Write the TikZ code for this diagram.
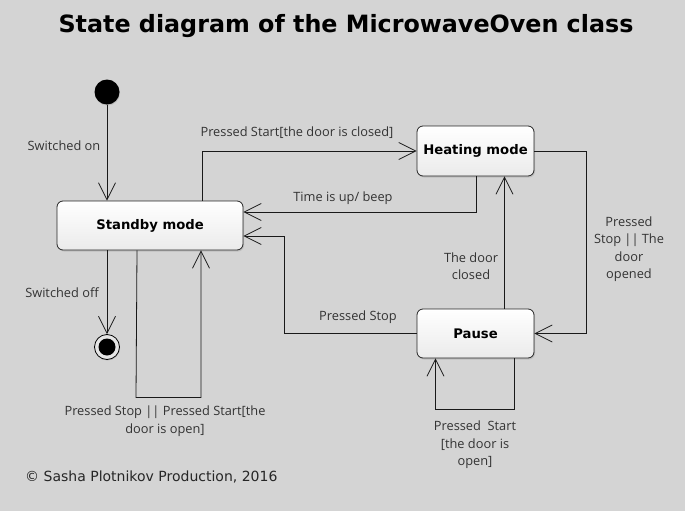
\documentclass[tikz,border=0pt]{standalone}
\usepackage{fontspec}
\setmainfont{Open Sans}
\newfontfamily\djv{DejaVu Sans}
\usetikzlibrary{arrows.meta,shadows,calc}
\definecolor{bg}{HTML}{D4D4D4}
\definecolor{txt}{HTML}{333333}
\tikzset{
  state/.style={draw=black!85, line width=0.8pt, rounded corners=6pt, top color=white, bottom color=black!8,
    font=\djv\bfseries\fontsize{13.2}{15}\selectfont, text=black,
    drop shadow={opacity=0.25, shadow xshift=1pt, shadow yshift=-1.5pt}},
  conn/.style={draw=black!90, line width=0.8pt, -{Straight Barb[length=17pt,width=17pt,line width=0.8pt]}},
  lbl/.style={text=txt, font=\fontsize{12.8}{17.5}\selectfont, align=center, inner sep=0pt},
}
\begin{document}
\begin{tikzpicture}[x=1pt,y=-1pt]
\fill[bg] (0,0) rectangle (685,511);
\useasboundingbox (0,0) rectangle (685,511);
\node[font=\djv\bfseries\fontsize{23.8}{27}\selectfont] (title) at (346,26) {State diagram of the MicrowaveOven class};

\node[circle, fill=black, minimum size=25pt, inner sep=0pt, drop shadow={opacity=0.3, shadow xshift=0.5pt, shadow yshift=-1pt}] (init) at (107,92) {};
\node[circle, draw=black, line width=0.8pt, fill=black!10, minimum size=25pt, inner sep=0pt, drop shadow={opacity=0.3, shadow xshift=0.5pt, shadow yshift=-1pt}] (final) at (107,347) {};
\node[circle, fill=black, minimum size=17pt, inner sep=0pt] (finalin) at (final) {};

\node[state, minimum width=186pt, minimum height=49pt] (standby) at (150,225.5) {Standby mode};
\node[state, minimum width=117pt, minimum height=50pt] (heating) at (475.5,151) {Heating mode};
\node[state, minimum width=117pt, minimum height=49pt] (pause) at (475.5,333.5) {Pause};

% connectors
\draw[conn] (init) -- (init |- standby.north);
\draw[conn] ([xshift=52pt]standby.north) |- (heating.west);
\draw[conn] ([xshift=0.5pt]heating.south) |- ([yshift=13.5pt]standby.east);
\draw[conn] (pause.west) -- ++(-132,0) |- ([yshift=-10.5pt]standby.east);
\draw[conn] ([xshift=29pt]pause.north) -- ([xshift=29pt]heating.south);
\draw[conn] (heating.east) -- ++(52,0) |- (pause.east);
\draw[conn] ([xshift=-13pt]standby.south) -- ++(-1,147) -| ([xshift=51pt]standby.south);
\draw[conn] (standby.south -| final) -- (final.north);
\draw[conn] ([xshift=39pt]pause.south) -- ++(0,51) -| ([xshift=-40pt]pause.south);

% labels
\node[lbl] (l1) at (64,146) {Switched on};
\node[lbl] (l2) at (297,133) {Pressed Start[the door is closed]};
\node[lbl] (l3) at (343,198) {Time is up/ beep};
\node[lbl] (l4) at (358,317) {Pressed Stop};
\node[lbl] (l5) at (471,266) {The door\\closed};
\node[lbl] (l6) at (629,249) {Pressed\\Stop || The\\door\\opened};
\node[lbl] (l7) at (165,421) {Pressed Stop || Pressed Start[the\\door is open]};
\node[lbl] (l8) at (62,293) {Switched off};
\node[lbl] (l9) at (475,445) {Pressed\ \ Start\\[0pt][the door is\\open]};

\node[anchor=west, text=black!85, inner sep=0pt, font=\djv\fontsize{14}{16}\selectfont] (copy) at (25,477) {© Sasha Plotnikov Production, 2016};
\end{tikzpicture}
\end{document}
